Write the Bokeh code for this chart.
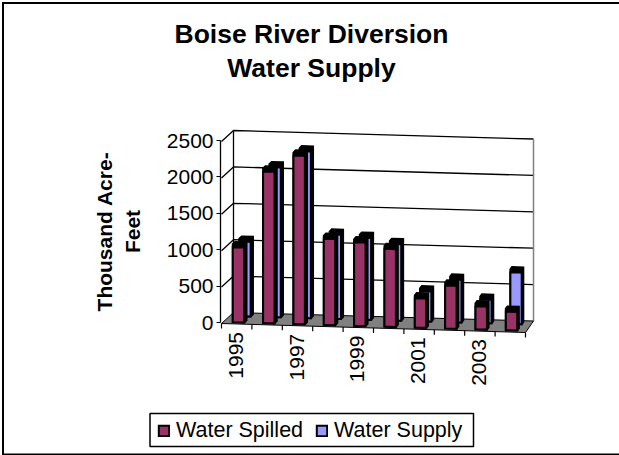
from bokeh.plotting import figure
from bokeh.models import Range1d, Label, Legend, LegendItem, FixedTicker
from bokeh.core.properties import value
from bokeh.embed import file_html
from bokeh.resources import INLINE
import math

years = ["1995","1996","1997","1998","1999","2000","2001","2002","2003","2004"]
water_spilled = [1070, 2122, 2354, 1222, 1187, 1108, 442, 629, 356, 295]
water_supply = [1064, 2098, 2328, 1196, 1166, 1092, 452, 625, 363, 749]
value_ticks = [0, 500, 1000, 1500, 2000, 2500]
title_text = "Boise River Diversion\nWater Supply"
axis_title = "Thousand Acre-\nFeet"
FONT = "Liberation Sans"
RED, BLUE, GREY = "#993366", "#9999FF", "#808080"

W, H = 619, 455
AXIS_X = 220
PX = 0.0728
Y_ZERO = 322
p = figure(width=W, height=H, output_backend="svg", toolbar_location=None,
           x_axis_location=None, y_axis_location="left",
           x_range=Range1d(0, W), y_range=Range1d((Y_ZERO - H) / PX, Y_ZERO / PX),
           min_border_left=0, min_border_right=0, min_border_top=0, min_border_bottom=0,
           margin=(0, 0, 0, 0))
p.outline_line_color = None
p.grid.visible = False
p.background_fill_color = "white"

def up(px):
    return (Y_ZERO - px) / PX

def pt(t, d, v):
    x = (221 + 304 * t) * (1 - d) + (233 + 300 * t) * d
    y = (323 + 9 * t) * (1 - d) + (312 + 8.5 * t) * d
    return x, up(y) + v

# outer frame of the chart: top, left and bottom only
p.line([W + 5, 2.5, 2.5, W + 5], [up(2.5), up(2.5), up(454), up(454)],
       line_color="black", line_width=2, line_join="miter")

# legend box
p.quad(left=[149.5], right=[473], top=[up(413)], bottom=[up(446)],
       fill_color="white", line_color="black", line_width=1.5)

# walls and gridlines
wx, wy = [], []
for v in value_ticks[1:]:
    a, b, c = pt(0, 0, v), pt(0, 1, v), pt(1, 1, v)
    wx.append([a[0], b[0], c[0]]); wy.append([a[1], b[1], c[1]])
p.multi_line(wx, wy, line_color="black", line_width=1.3)
a, b = pt(0, 1, 0), pt(0, 1, 2500)
p.line([a[0], b[0]], [a[1], b[1]], line_color="black", line_width=1.3)
a, b = pt(1, 1, 0), pt(1, 1, 2500)
p.line([a[0], b[0]], [a[1], b[1]], line_color=GREY, line_width=1.5)

# floor
c = [pt(0, 0, 0), pt(0, 1, 0), pt(1, 1, 0), pt(1, 0, 0)]
p.patch([q[0] for q in c], [q[1] for q in c], fill_color=GREY, line_color="black", line_width=1)

# ticks under the floor
tx0, ty0, tx1, ty1 = [], [], [], []
for i in range(11):
    q = pt(i / 10, 0, 0)
    tx0.append(q[0]); ty0.append(q[1]); tx1.append(q[0]); ty1.append(q[1] - 5 / PX)
p.segment(tx0, ty0, tx1, ty1, line_color="black", line_width=1.2)

# category labels
lx, ly, lt = [], [], []
for i in range(0, 10, 2):
    q = pt((i + 0.5) / 10, 0, 0)
    lx.append(q[0] - 1); ly.append(q[1] - 8 / PX); lt.append(years[i])
p.text(lx, ly, lt, angle=math.pi / 2, text_align="right", text_baseline="middle",
       text_font=value(FONT), text_font_size="21px", text_color="black")

HALF = 0.0188
DEPTH = 0.2

def bars(values, d, color):
    sx, sy, fx, fy = [], [], [], []
    for i, v in enumerate(values):
        t = (i + 0.5) / 10
        l, r = t - HALF, t + HALF
        sil = [pt(l, d, 0), pt(l, d, v), pt(l, d + DEPTH, v), pt(r, d + DEPTH, v),
               pt(r, d + DEPTH, 0), pt(r, d, 0)]
        sx.append([q[0] for q in sil]); sy.append([q[1] for q in sil])
        face = [pt(l, d, 0), pt(l, d, v - 40), pt(r, d, v - 40), pt(r, d, 0)]
        fx.append([q[0] for q in face]); fy.append([q[1] for q in face])
    p.patches(sx, sy, fill_color="black", line_color="black", line_width=2, line_join="miter")
    return p.patches(fx, fy, fill_color=color, line_color="black", line_width=2, line_join="miter")

r_supply = bars(water_supply, 0.7, BLUE)
r_spilled = bars(water_spilled, 0.15, RED)

# value axis
ax = p.yaxis[0]
ax.fixed_location = AXIS_X
ax.bounds = (0, 2500)
ax.ticker = FixedTicker(ticks=value_ticks)
ax.major_tick_in = 0
ax.major_tick_out = 4
ax.minor_tick_line_color = None
ax.axis_line_color = "black"
ax.axis_line_width = 1.3
ax.major_label_text_font = FONT
ax.major_label_text_font_size = "21px"
ax.major_label_text_color = "black"
ax.major_label_standoff = 3
ax.axis_label = axis_title
ax.axis_label_text_font = FONT
ax.axis_label_text_font_style = "bold"
ax.axis_label_text_font_size = "21px"
ax.axis_label_text_color = "black"
ax.axis_label_standoff = 20

# title
p.add_layout(Label(x=311, y=up(18.5), text=title_text, text_align="center", text_baseline="top",
                   text_font=FONT, text_font_style="bold", text_font_size="26.5px",
                   text_color="black", text_line_height=1.12))

legend = Legend(items=[LegendItem(label="Water Spilled", renderers=[r_spilled]),
                       LegendItem(label="Water Supply", renderers=[r_supply])],
                orientation="horizontal", location=(157, H - 443),
                label_text_font=FONT, label_text_font_size="21.5px", label_text_color="black",
                glyph_width=13, glyph_height=13, padding=0, margin=0, spacing=12, label_standoff=6,
                label_height=20,
                border_line_color=None, background_fill_alpha=0)
p.add_layout(legend)

open("out.html", "w").write(file_html(p, INLINE))
